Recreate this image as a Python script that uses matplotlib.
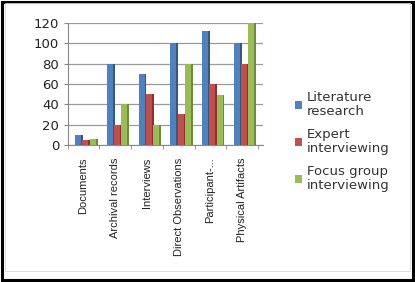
import matplotlib
matplotlib.use("Agg")
import matplotlib.pyplot as plt
import numpy as np
from matplotlib.patches import Rectangle

categories = ["Documents", "Archival records", "Interviews", "Direct Observations",
              "Participant-...", "Physical Artifacts"]
series_names = ["Literature\nresearch", "Expert\ninterviewing", "Focus group\ninterviewing"]
literature = [10, 80, 70, 100, 112, 100]
expert = [5, 20, 50, 30, 60, 80]
focus = [6, 40, 20, 80, 49, 120]
yticks = [0, 20, 40, 60, 80, 100, 120]

colors = ["#4F81BD", "#C0504D", "#9BBB59"]
side_colors = ["#36587F", "#8A3230", "#6E8A3A"]

fig = plt.figure(figsize=(4.15, 2.82), dpi=100)
ax = fig.add_axes([0.163, 0.486, 0.47, 0.432])

x = np.arange(len(categories))
bw = 0.19
sw = 0.06
pitch = 0.23
for i, (vals, c, sc) in enumerate(zip([literature, expert, focus], colors, side_colors)):
    pos = x - pitch + i * pitch + 0.06
    ax.bar(pos, vals, width=bw, color=c, label=series_names[i], zorder=3, linewidth=0)
    ax.bar(pos + bw / 2 + sw / 2, vals, width=sw, color=sc, zorder=3, linewidth=0)

ax.set_xlim(-0.5, 5.65)
ax.set_ylim(0, 120)
ax.set_yticks(yticks)
ax.set_yticklabels([str(v) for v in yticks], fontsize=9.5, color="#222222")
ax.set_xticks(x)
ax.set_xticklabels(categories, rotation=90, fontsize=8, color="#222222",
                   family="Liberation Sans")
ax.set_xticks(np.arange(-0.5, 6.0, 1.0), minor=True)
ax.tick_params(axis="x", which="major", length=0, pad=9)
ax.tick_params(axis="x", which="minor", length=3, color="#888888")
ax.tick_params(axis="y", length=3, color="#888888", pad=3)
ax.yaxis.grid(True, color="#9a9a9a", linewidth=0.9, zorder=0)
for s in ["top", "right"]:
    ax.spines[s].set_visible(False)
ax.spines["left"].set_color("#888888")
ax.spines["bottom"].set_color("#888888")

handles, labels = ax.get_legend_handles_labels()
leg = fig.legend(handles, labels, loc="upper left", bbox_to_anchor=(0.697, 0.695),
                 frameon=False, fontsize=9.5, handlelength=0.6, handleheight=0.6,
                 handletextpad=0.35, labelspacing=0.75, borderaxespad=0)
for t in leg.get_texts():
    t.set_color("#333333")
    t.set_linespacing(1.1)

fig.patches.append(Rectangle((0.004, 0.008), 0.99, 0.985, transform=fig.transFigure,
                             fill=False, edgecolor="black", linewidth=2.2))
fig.patches.append(Rectangle((0.012, 0.04), 0.975, 0.95, transform=fig.transFigure,
                             fill=False, edgecolor="#d8d8d8", linewidth=0.6))

fig.savefig("out.png", dpi=100)
